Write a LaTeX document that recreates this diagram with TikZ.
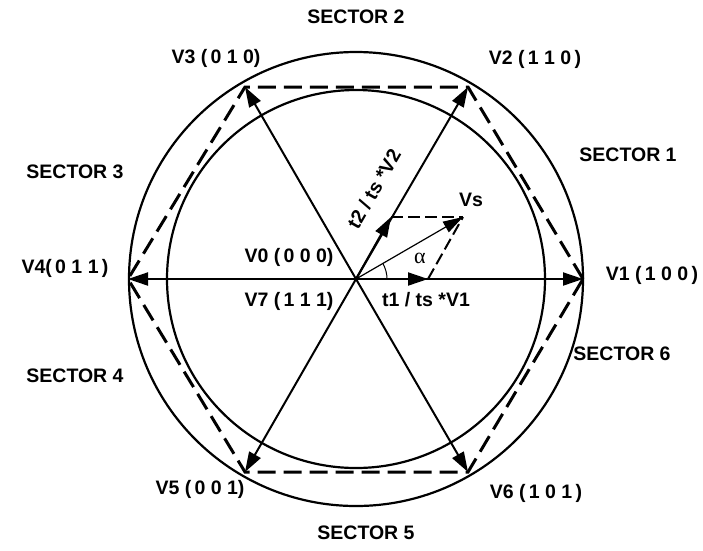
\documentclass[tikz,border=0pt]{standalone}
\usepackage{fontspec}
\setmainfont{Liberation Sans}
\newfontfamily\grfont{Liberation Serif}
\usetikzlibrary{arrows.meta}
\begin{document}
\begin{tikzpicture}[x=1pt,y=-1pt,
  lbl/.style={font=\fontsize{19.5}{22}\selectfont\bfseries, inner sep=0pt},
  vec/.style={line width=2pt, -{Triangle[length=20pt,width=13pt]}},
  thinvec/.style={line width=1.2pt, -{Triangle[length=20pt,width=12pt]}},
  circ/.style={line width=2.2pt},
  hexd/.style={line width=3pt, dash pattern=on 18pt off 8pt},
  compd/.style={line width=2pt, dash pattern=on 12pt off 5pt}]
\useasboundingbox (0,0) rectangle (703,550);
\coordinate (O) at (356,279);
% circles
\draw[circ] (O) circle[radius=227];
\draw[circ] (O) circle[radius=189];
% vertices
\coordinate (v1) at (583,279);
\coordinate (v2) at (468,87);
\coordinate (v3) at (245,87);
\coordinate (v4) at (128,279);
\coordinate (v5) at (245,472);
\coordinate (v6) at (468,472);
% dashed hexagon
\draw[hexd] (v1) -- (v2) -- (v3) -- (v4) -- (v5) -- (v6) -- cycle;
% basic vectors
\foreach \v in {v1,v2,v3,v4,v5,v6} \draw[vec] (O) -- (\v);
% components
\coordinate (a1) at (428,279);
\coordinate (a2) at (391,217);
\coordinate (vs) at (463,217);
\draw[compd] (a1) -- (vs);
\draw[compd] (a2) -- (vs);
\draw[vec] (O) -- (a1);
\draw[vec] (O) -- (a2);
\draw[thinvec] (O) -- (vs);
\draw[line width=1pt] ([xshift=31pt]O) arc[start angle=0, end angle=-30, radius=31];
% labels
\node[lbl] (s2) at (356,17) {SECTOR 2};
\node[lbl] (s1) at (628,155) {SECTOR 1};
\node[lbl] (s3) at (75,172) {SECTOR 3};
\node[lbl] (s4) at (75,376) {SECTOR 4};
\node[lbl] (s6) at (622,354) {SECTOR 6};
\node[lbl] (s5) at (366,533) {SECTOR 5};
\node[lbl] (l3) at (216,58) {V3 (\,0 1 0)};
\node[lbl] (l2) at (535,59) {V2 (\,1 1 0\,)};
\node[lbl] (l4) at (65,268) {V4(\,0 1 1\,)};
\node[lbl] (l1) at (652,275) {V1 (\,1 0 0\,)};
\node[lbl] (l5) at (200,489) {V5 (\,0 0 1)};
\node[lbl] (l6) at (536,493) {V6 (\,1 0 1\,)};
\node[lbl] (l0) at (289,257) {V0 (\,0 0 0)};
\node[lbl] (l7) at (289,301) {V7 (\,1 1 1)};
\node[lbl] (lt1) at (426,300) {t1 / ts *V1};
\node[lbl, rotate=60] (lt2) at (374,189) {t2 / ts *V2};
\node[lbl] (lvs) at (471,200) {Vs};
\node[inner sep=0pt, font=\grfont\fontsize{22}{24}\selectfont] (alpha) at (420,258) {α};
\end{tikzpicture}
\end{document}
